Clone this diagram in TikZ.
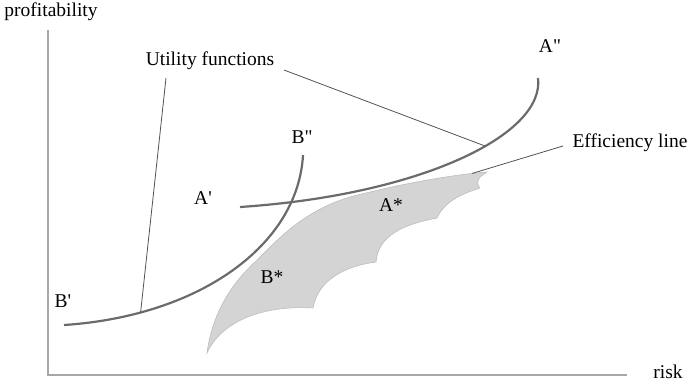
\documentclass[tikz,border=0pt]{standalone}
\usepackage{fontspec}
\setmainfont{Liberation Serif}[Ligatures=TeXOff]
\begin{document}
\begin{tikzpicture}[x=1pt,y=-1pt,
  lbl/.style={font=\fontsize{19.5}{23}\selectfont, inner sep=0pt, text=black},
  axisline/.style={draw=black!34, line width=1.3pt},
  ucurve/.style={draw=black!58, line width=2.2pt},
  pointer/.style={draw=black!68, line width=0.8pt},
  region/.style={fill=black!17, draw=black!26, line width=0.6pt}
]
\useasboundingbox (0,0) rectangle (690,384);

% shaded feasible region
\path[region] (487,172) -- (480,177) .. controls (477,181) and (477,185) .. (480,188)
  .. controls (465,193) and (445,200) .. (437,218)
  .. controls (405,224) and (378,235) .. (376,262)
  .. controls (345,266) and (318,280) .. (313,308)
  .. controls (265,305) and (222,320) .. (207,353)
  .. controls (212,315) and (230,285) .. (255,262)
  .. controls (275,243) and (300,212) .. (350,197)
  .. controls (400,184) and (450,175) .. coordinate[pos=0.87] (eff1) (487,172) -- cycle;

% axes
\coordinate (ytop) at (48,30);
\coordinate (orig) at (48,375);
\coordinate (xend) at (627,375);
\draw[axisline] (ytop) -- (orig) -- (xend);

% utility curves
\coordinate (Bstart) at (64,325);
\coordinate (Bend) at (303,155);
\coordinate (Astart) at (240,207);
\coordinate (Aend) at (538,78);
\draw[ucurve] (Bstart) .. controls (200,316) and (298,245) .. coordinate[pos=0.2] (b1) (Bend);
\draw[ucurve] (Astart) .. controls (420,195) and (545,135) .. coordinate[pos=0.59] (a1) (Aend);

% labels
\node[lbl] (prof) at (51,12) {profitability};
\node[lbl] (risk) at (668,372) {risk};
\node[lbl] (uf) at (210,61) {Utility functions};
\node[lbl] (eff) at (630,143) {Efficiency line};
\node[lbl] (App) at (550,46) {A"};
\node[lbl] (Bpp) at (302,137) {B"};
\node[lbl] (Ap) at (203,198) {A'};
\node[lbl] (Bp) at (63,301) {B'};
\node[lbl] (Bst) at (272,277) {B*};
\node[lbl] (Ast) at (391,205) {A*};

% pointer lines
\coordinate (u1) at (166,78);
\coordinate (u2) at (284,70);
\coordinate (e0) at (563,146);
\draw[pointer] (u1) -- (b1);
\draw[pointer] (u2) -- (a1);
\draw[pointer] (e0) -- (eff1);
\end{tikzpicture}
\end{document}
